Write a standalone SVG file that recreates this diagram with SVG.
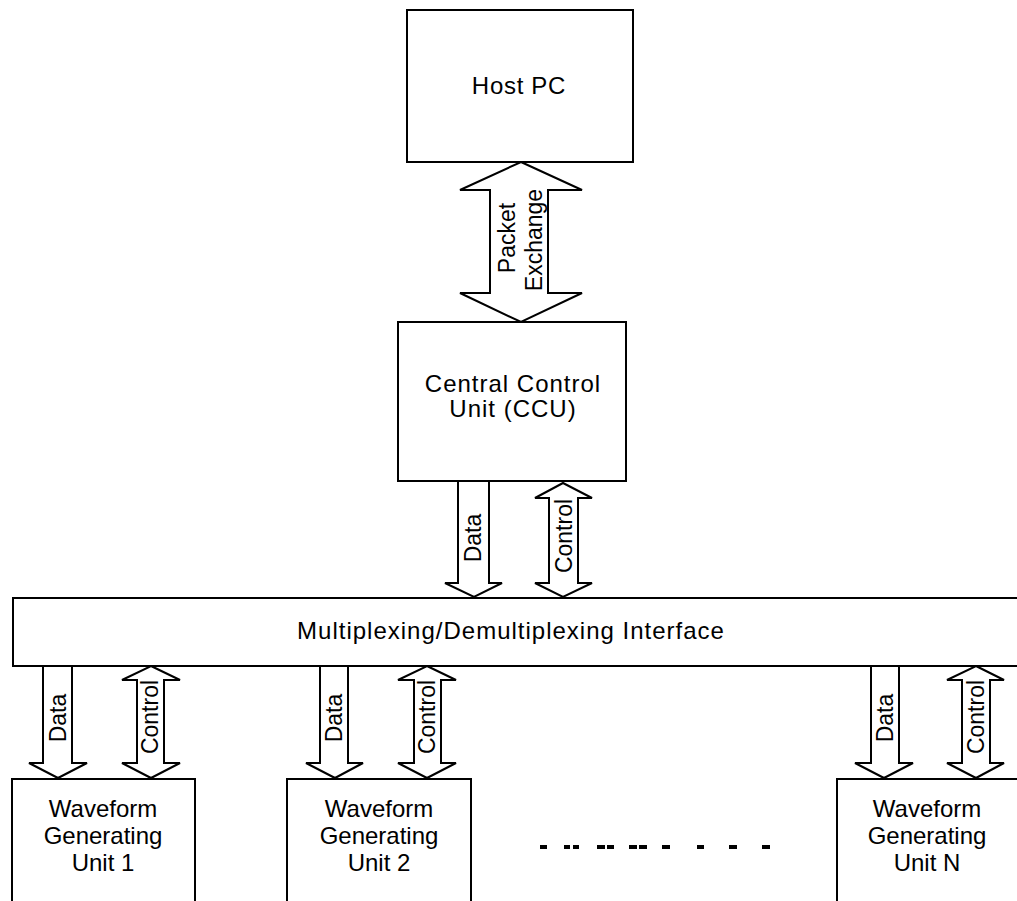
<svg xmlns="http://www.w3.org/2000/svg" width="1017" height="901" viewBox="0 0 1017 901">
  <style>
    .box { fill: #ffffff; stroke: #000000; stroke-width: 2; }
    .arrow { fill: #ffffff; stroke: #000000; stroke-width: 2; stroke-linejoin: miter; }
    .label { font-family: "Liberation Sans", Arial, sans-serif; font-size: 24px; fill: #000000; text-anchor: middle; }
    .vlabel { font-family: "Liberation Sans", Arial, sans-serif; font-size: 23px; fill: #000000; text-anchor: middle; }
    .dot { fill: #000000; }
  </style>
  <rect width="1017" height="901" fill="#ffffff"/>

  <!-- block arrows between the units -->
  <g id="connectors">
    <!-- Host PC <-> CCU -->
    <polygon class="arrow" points="521,162 582,190 548,190 548,293 582,293 521,322 460,293 490,293 490,190 460,190"/>
    <text class="vlabel" font-size="24" transform="translate(515,238) rotate(-90)">Packet</text>
    <text class="vlabel" font-size="24" transform="translate(542,240) rotate(-90)">Exchange</text>

    <!-- CCU -> Mux data -->
    <polygon class="arrow" points="458,481 489,481 489,583 502,583 474,597 445,583 458,583"/>
    <text class="vlabel" transform="translate(481,538) rotate(-90)">Data</text>
    <!-- CCU <-> Mux control -->
    <polygon class="arrow" points="563,483 592,498 578,498 578,583 592,583 563,597 535,583 549,583 549,498 535,498"/>
    <text class="vlabel" transform="translate(572,536) rotate(-90)">Control</text>

    <!-- Mux -> Unit 1 -->
    <polygon class="arrow" points="43,666 72,666 72,763 87,763 58,778 29,763 43,763"/>
    <text class="vlabel" transform="translate(66,718) rotate(-90)">Data</text>
    <polygon class="arrow" points="151,666 180,680 164,680 164,763 180,763 151,778 122,763 137,763 137,680 122,680"/>
    <text class="vlabel" transform="translate(158,717) rotate(-90)">Control</text>

    <!-- Mux -> Unit 2 -->
    <polygon class="arrow" points="320,666 348,666 348,763 363,763 335,778 306,763 320,763"/>
    <text class="vlabel" transform="translate(342,718) rotate(-90)">Data</text>
    <polygon class="arrow" points="427,666 456,680 441,680 441,763 456,763 427,778 398,763 414,763 414,680 398,680"/>
    <text class="vlabel" transform="translate(435,717) rotate(-90)">Control</text>

    <!-- Mux -> Unit N -->
    <polygon class="arrow" points="871,666 899,666 899,763 913,763 884,778 855,763 871,763"/>
    <text class="vlabel" transform="translate(893,718) rotate(-90)">Data</text>
    <polygon class="arrow" points="976,666 1004,680 990,680 990,763 1004,763 976,778 947,763 962,763 962,680 947,680"/>
    <text class="vlabel" transform="translate(984,717) rotate(-90)">Control</text>
  </g>

  <g id="host-pc">
    <rect class="box" x="407" y="10" width="226" height="152"/>
    <text class="label" x="519" y="94" font-size="26" letter-spacing="0.7">Host PC</text>
  </g>

  <g id="ccu">
    <rect class="box" x="398" y="322" width="228" height="159"/>
    <text class="label" x="513" y="392" font-size="25" letter-spacing="1">Central Control</text>
    <text class="label" x="513" y="417" font-size="25" letter-spacing="1">Unit (CCU)</text>
  </g>

  <g id="mux">
    <rect class="box" x="13" y="598" width="1020" height="68"/>
    <text class="label" x="511" y="639" font-size="26" letter-spacing="1">Multiplexing/Demultiplexing Interface</text>
  </g>

  <g id="unit-1">
    <rect class="box" x="12" y="779" width="183" height="130"/>
    <text class="label" x="103" y="817">Waveform</text>
    <text class="label" x="103" y="844">Generating</text>
    <text class="label" x="103" y="871">Unit 1</text>
  </g>

  <g id="unit-2">
    <rect class="box" x="287" y="779" width="184" height="130"/>
    <text class="label" x="379" y="817">Waveform</text>
    <text class="label" x="379" y="844">Generating</text>
    <text class="label" x="379" y="871">Unit 2</text>
  </g>

  <g id="unit-n">
    <rect class="box" x="837" y="779" width="190" height="130"/>
    <text class="label" x="927" y="817">Waveform</text>
    <text class="label" x="927" y="844">Generating</text>
    <text class="label" x="927" y="871">Unit N</text>
  </g>

  <!-- ellipsis between unit 2 and unit N -->
  <g id="ellipsis">
    <rect class="dot" x="540" y="845" width="7" height="4"/>
    <rect class="dot" x="564" y="845" width="6" height="4"/>
    <rect class="dot" x="573" y="845" width="6" height="4"/>
    <rect class="dot" x="597" y="845" width="8" height="4"/>
    <rect class="dot" x="607" y="845" width="7" height="4"/>
    <rect class="dot" x="629" y="845" width="8" height="4"/>
    <rect class="dot" x="639" y="845" width="8" height="4"/>
    <rect class="dot" x="662" y="845" width="8" height="4"/>
    <rect class="dot" x="697" y="845" width="7" height="4"/>
    <rect class="dot" x="729" y="845" width="8" height="4"/>
    <rect class="dot" x="762" y="845" width="8" height="4"/>
  </g>
</svg>
